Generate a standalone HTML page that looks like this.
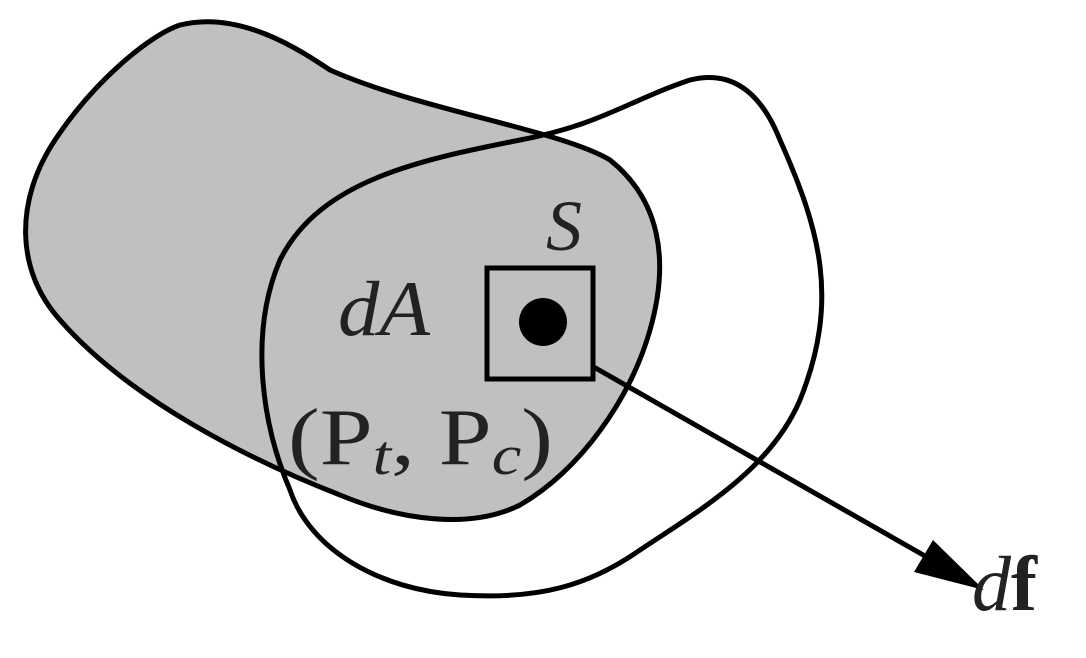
<!DOCTYPE html>
<html><head><style>body{margin:0;background:#fff}svg{display:block}</style></head>
<body>
<svg width="1086" height="658" viewBox="0 0 1086 658" xmlns="http://www.w3.org/2000/svg">
<path d="M180,25 C240,10 300,50 330,70 C420,110 560,130 610,160 C660,200 670,260 650,330 C630,400 580,470 520,505 C470,530 400,520 340,495 C250,460 130,400 60,320 C15,270 15,200 55,140 C95,80 150,35 180,25 Z" fill="#c0c0c0" stroke="#000" stroke-width="5"/>
<path d="M290,490 C260,420 250,330 280,260 C320,180 420,160 520,140 C600,125 630,100 690,80 C730,70 760,90 780,140 C820,230 840,300 800,400 C770,470 700,510 640,550 C590,585 540,600 460,595 C380,590 310,550 290,490 Z" fill="none" stroke="#000" stroke-width="5"/>
<rect x="487" y="268" width="106" height="111" fill="none" stroke="#000" stroke-width="5"/>
<circle cx="543" cy="322" r="24" fill="#000"/>
<line x1="592" y1="366" x2="925" y2="556" stroke="#000" stroke-width="5"/>
<polygon points="984,590 914,572 933,540" fill="#000"/>
<g font-family="Liberation Serif, serif" fill="#222">
<text x="546" y="250" font-size="72" font-style="italic">S</text>
<text x="338" y="335" font-size="78" font-style="italic" textLength="92" lengthAdjust="spacingAndGlyphs">dA</text>
<text x="288" y="464" font-size="80" textLength="265" lengthAdjust="spacingAndGlyphs">(P<tspan font-style="italic" font-size="56" dy="10">t</tspan><tspan dy="-10">, P</tspan><tspan font-style="italic" font-size="56" dy="10">c</tspan><tspan dy="-10">)</tspan></text>
<text x="972" y="610" font-size="78"><tspan font-style="italic">d</tspan><tspan font-weight="bold">f</tspan></text>
</g>
</svg>
</body></html>
